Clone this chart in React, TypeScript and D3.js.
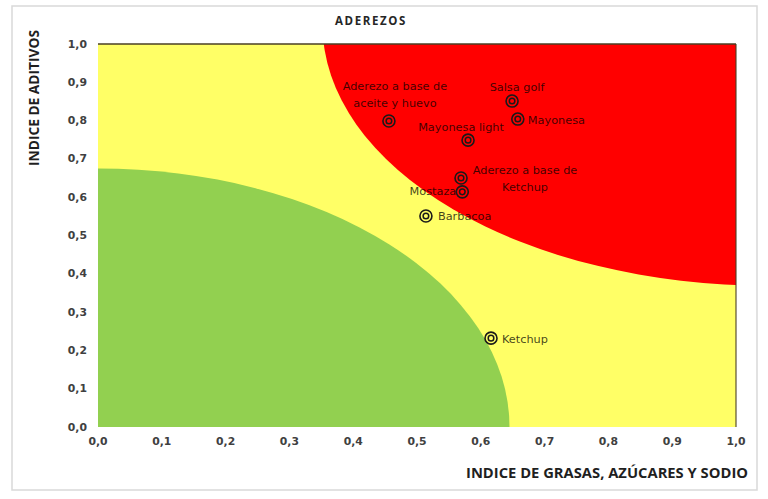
import React from "react";
import * as d3 from "d3";

const W = 768;
const H = 499;

// Data
const products = [
  "Aderezo a base de aceite y huevo",
  "Salsa golf",
  "Mayonesa",
  "Mayonesa light",
  "Aderezo a base de Ketchup",
  "Mostaza",
  "Barbacoa",
  "Ketchup",
];
const labelLines = [
  ["Aderezo a base de", "aceite y huevo"],
  ["Salsa golf"],
  ["Mayonesa"],
  ["Mayonesa light"],
  ["Aderezo a base de", "Ketchup"],
  ["Mostaza"],
  ["Barbacoa"],
  ["Ketchup"],
];
const grasasIdx = [0.456, 0.649, 0.658, 0.58, 0.569, 0.571, 0.514, 0.616];
const aditivosIdx = [0.799, 0.851, 0.804, 0.749, 0.65, 0.614, 0.551, 0.232];

const ticks = [0, 0.1, 0.2, 0.3, 0.4, 0.5, 0.6, 0.7, 0.8, 0.9, 1.0];

// Zones (data units)
const greenZone = { cx: 0, cy: 0, rx: 0.645, ry: 0.675 };
const redZone = { cx: 1.05, cy: 1.05, rx: 0.698, ry: 0.681 };

// Label layout (pixel offsets relative to marker)
const labelLayout = [
  { dx: 6, dy: -34, anchor: "middle" },
  { dx: 5, dy: -14, anchor: "middle" },
  { dx: 10, dy: 1, anchor: "start" },
  { dx: -7, dy: -13, anchor: "middle" },
  { dx: 64, dy: -8, anchor: "middle" },
  { dx: -6, dy: 0, anchor: "end" },
  { dx: 12, dy: 1, anchor: "start" },
  { dx: 11, dy: 1, anchor: "start" },
];

export default function App() {
  const x = d3.scaleLinear().domain([0, 1]).range([98, 736]);
  const y = d3.scaleLinear().domain([0, 1]).range([427, 44]);
  const fmt = (v: number) => d3.format(".1f")(v).replace(".", ",");

  const plotX = x(0);
  const plotY = y(1);
  const plotW = x(1) - x(0);
  const plotH = y(0) - y(1);

  const tickFont = "'DejaVu Sans', Verdana, sans-serif";
  const titleFont = "'Open Sans', 'Liberation Sans', sans-serif";

  const zoneEllipse = (z: { cx: number; cy: number; rx: number; ry: number }, fill: string) => (
    <ellipse
      cx={x(z.cx)}
      cy={y(z.cy)}
      rx={Math.abs(x(z.cx + z.rx) - x(z.cx))}
      ry={Math.abs(y(z.cy + z.ry) - y(z.cy))}
      fill={fill}
    />
  );

  return (
    <svg
      width={W}
      height={H}
      style={{ position: "absolute", left: 0, top: 0, background: "#fff" }}
    >
      <defs>
        <clipPath id="plotClip">
          <rect x={plotX} y={plotY} width={plotW} height={plotH} />
        </clipPath>
      </defs>
      {/* chart frame */}
      <rect x={12} y={6} width={745} height={484} fill="#fff" stroke="#d9d9d9" strokeWidth={1.5} />

      {/* title */}
      <text
        x={371}
        y={20}
        textAnchor="middle"
        dominantBaseline="central"
        fontFamily={titleFont}
        fontWeight="bold"
        fontSize={11.5}
        fill="#262626"
        letterSpacing={1.6}
      >
        ADEREZOS
      </text>

      {/* plot area zones */}
      <g clipPath="url(#plotClip)">
        <rect x={plotX} y={plotY} width={plotW} height={plotH} fill="#FFFF66" />
        {zoneEllipse(greenZone, "#92D050")}
        {zoneEllipse(redZone, "#FF0000")}
      </g>
      <line x1={plotX} x2={x(1)} y1={plotY} y2={plotY} stroke="#4a3f25" strokeWidth={1.3} />
      <line x1={x(1)} x2={x(1)} y1={plotY} y2={y(0)} stroke="#4a3f25" strokeWidth={1.1} />

      {/* y tick labels */}
      {ticks.map((t) => (
        <text
          key={"y" + t}
          x={87}
          y={y(t)}
          textAnchor="end"
          dominantBaseline="central"
          fontFamily={tickFont}
          fontWeight="bold"
          fontSize={10.8}
          fill="#404040"
        >
          {fmt(t)}
        </text>
      ))}
      {/* x tick labels */}
      {ticks.map((t) => (
        <text
          key={"x" + t}
          x={x(t)}
          y={441}
          textAnchor="middle"
          dominantBaseline="central"
          fontFamily={tickFont}
          fontWeight="bold"
          fontSize={10.8}
          fill="#404040"
        >
          {fmt(t)}
        </text>
      ))}

      {/* axis titles */}
      <text
        x={748}
        y={472}
        textAnchor="end"
        dominantBaseline="central"
        fontFamily={titleFont}
        fontWeight="bold"
        fontSize={14.5}
        fill="#1f1f1f"
        textLength={282}
        lengthAdjust="spacingAndGlyphs"
      >
        INDICE DE GRASAS, AZÚCARES Y SODIO
      </text>
      <text
        transform={`translate(33, 98) rotate(-90)`}
        textAnchor="middle"
        dominantBaseline="central"
        fontFamily={titleFont}
        fontWeight="bold"
        fontSize={14.5}
        fill="#1f1f1f"
        textLength={136}
        lengthAdjust="spacingAndGlyphs"
      >
        INDICE DE ADITIVOS
      </text>

      {/* points */}
      {products.map((p, i) => {
        const cx = x(grasasIdx[i]);
        const cy = y(aditivosIdx[i]);
        const L = labelLayout[i];
        return (
          <g key={p}>
            <circle cx={cx} cy={cy} r={6} fill="none" stroke="#1a1a1a" strokeWidth={1.6} />
            <circle cx={cx} cy={cy} r={2.8} fill="none" stroke="#1a1a1a" strokeWidth={1.5} />
            {labelLines[i].map((ln, j) => (
              <text
                key={j}
                x={cx + L.dx}
                y={cy + L.dy + j * 17}
                textAnchor={L.anchor as any}
                dominantBaseline="central"
                fontFamily={tickFont}
                fontSize={11.3}
                fill="#000"
                fillOpacity={0.75}
              >
                {ln}
              </text>
            ))}
          </g>
        );
      })}
    </svg>
  );
}
